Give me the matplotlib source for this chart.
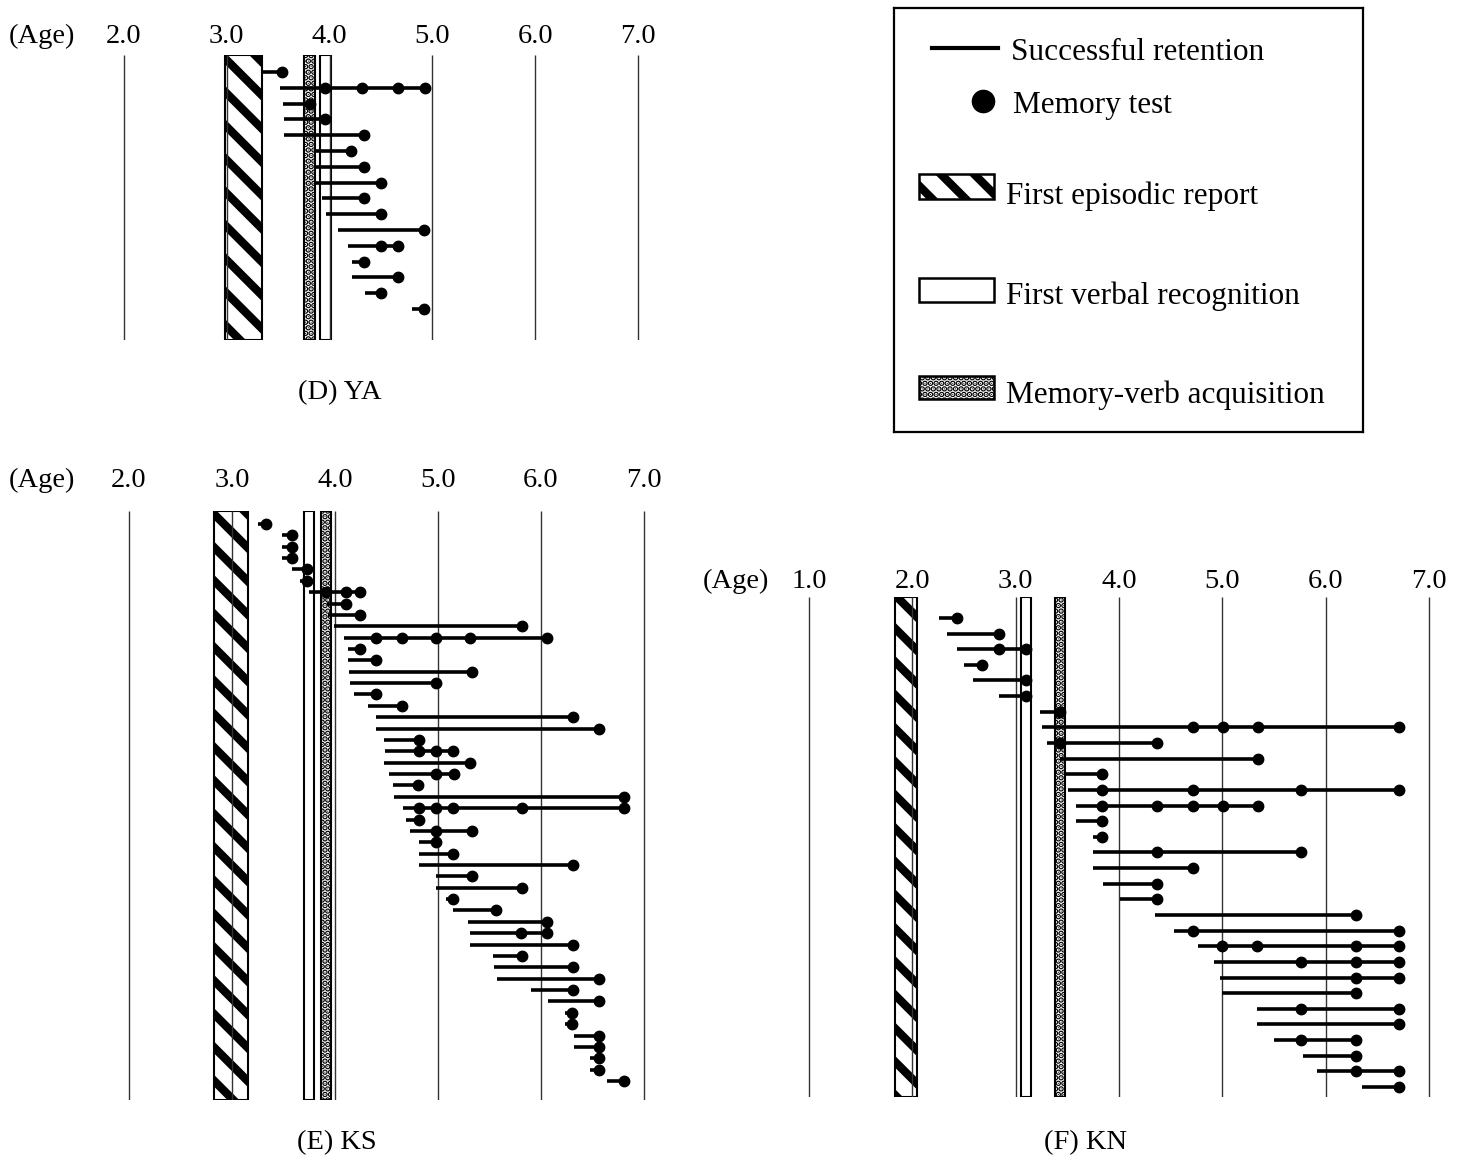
import matplotlib
matplotlib.use("Agg")
import matplotlib.pyplot as plt
from matplotlib.patches import Rectangle

plt.rcParams['font.family'] = ['Liberation Serif', 'DejaVu Serif']
plt.rcParams['hatch.linewidth'] = 6.0

W, H = 1467, 1160
OUT = "out.png"

# ---- data (ages in years) ----
ticks_de = [2.0, 3.0, 4.0, 5.0, 6.0, 7.0]
ticks_f = [1.0, 2.0, 3.0, 4.0, 5.0, 6.0, 7.0]

# (D) YA
ya_episodic = (2.98, 3.34)
ya_verbal = (3.91, 4.01)
ya_memverb = (3.75, 3.86)
ya_start = [3.34, 3.52, 3.55, 3.56, 3.56, 3.85, 3.85, 3.85,
            3.93, 3.97, 4.08, 4.18, 4.22, 4.22, 4.34, 4.80]
ya_tests = [[3.54], [3.96, 4.32, 4.67, 4.93], [3.81], [3.96], [4.33],
            [4.21], [4.33], [4.50], [4.33], [4.50], [4.92], [4.50, 4.67],
            [4.33], [4.67], [4.50], [4.92]]

# (E) KS
ks_episodic = (2.83, 3.16)
ks_verbal = (3.70, 3.80)
ks_memverb = (3.86, 3.96)
ks_start = [3.25, 3.49, 3.49, 3.49, 3.58, 3.66, 3.75, 3.92, 3.93, 3.99,
            4.09, 4.13, 4.13, 4.14, 4.15, 4.18, 4.32, 4.40, 4.40, 4.48,
            4.49, 4.48, 4.52, 4.56, 4.57, 4.66, 4.69, 4.73, 4.82, 4.82,
            4.82, 4.98, 4.98, 5.08, 5.15, 5.29, 5.31, 5.31, 5.53, 5.54,
            5.57, 5.90, 6.07, 6.23, 6.23, 6.32, 6.32, 6.48, 6.48, 6.64]
ks_tests = [[3.33], [3.58], [3.58], [3.58], [3.73], [3.73],
            [3.91, 4.11, 4.24], [4.11], [4.24], [5.82],
            [4.40, 4.65, 4.98, 5.31, 6.06], [4.24], [4.40], [5.33], [4.98],
            [4.40], [4.65], [6.31], [6.56], [4.82],
            [4.82, 4.98, 5.15], [5.31], [4.98, 5.16], [4.81], [6.81],
            [4.82, 4.98, 5.15, 5.82, 6.81], [4.82], [4.98, 5.33], [4.98], [5.15],
            [6.31], [5.33], [5.82], [5.15], [5.56],
            [6.06], [5.81, 6.06], [6.31], [5.82], [6.31],
            [6.56], [6.31], [6.56], [6.30], [6.30],
            [6.56], [6.56], [6.56], [6.56], [6.81]]

# (F) KN
kn_episodic = (1.83, 2.05)
kn_verbal = (3.05, 3.15)
kn_memverb = (3.38, 3.48)
kn_start = [2.26, 2.34, 2.43, 2.50, 2.59, 2.84, 3.24, 3.26, 3.30, 3.43,
            3.48, 3.51, 3.58, 3.58, 3.75, 3.75, 3.75, 3.85, 4.01, 4.35,
            4.53, 4.77, 4.92, 4.98, 5.00, 5.34, 5.34, 5.50, 5.78, 5.92, 6.35]
kn_tests = [[2.43], [2.84], [2.84, 3.10], [2.67], [3.10], [3.10], [3.43],
            [4.72, 5.01, 5.35, 6.71], [3.43, 4.37], [5.35], [3.84],
            [3.84, 4.72, 5.76, 6.71], [3.84, 4.37, 4.72, 5.01, 5.35], [3.84],
            [3.84], [4.37, 5.76], [4.72], [4.37], [4.37], [6.30],
            [4.72, 6.71], [5.00, 5.34, 6.30, 6.71], [5.76, 6.30, 6.71],
            [6.30, 6.71], [6.30], [5.76, 6.71], [6.71], [5.76, 6.30],
            [6.30], [6.30, 6.71], [6.71]]

legend_labels = ["Successful retention", "Memory test", "First episodic report",
                 "First verbal recognition", "Memory-verb acquisition"]

STRIPE = '\\'
DOTS = '...'

fig = plt.figure(figsize=(W / 100, H / 100), dpi=100)


def px_axes(left, top, width, height):
    return fig.add_axes([left / W, 1 - (top + height) / H, width / W, height / H])


def hatch_lw(patch, lw):
    if hasattr(patch, 'set_hatch_linewidth'):
        patch.set_hatch_linewidth(lw)
    return patch


def draw_panel(ax, ticks, age_x, episodic, verbal, memverb, starts, tests, pad):
    # bars
    hatch_lw(ax.axvspan(*episodic, facecolor='white', edgecolor='black', lw=1.5,
                        hatch=STRIPE, zorder=1), 6.0)
    ax.axvspan(*verbal, facecolor='white', edgecolor='black', lw=1.5, zorder=1)
    hatch_lw(ax.axvspan(*memverb, facecolor='white', edgecolor='black', lw=1.5,
                        hatch=DOTS, zorder=1), 3.0)
    # age grid
    y0, y1 = ax.get_ylim()
    ax.vlines(ticks, y0, y1, color='#333333', lw=1.0, zorder=2)
    # retention lines and tests
    for i, (s, t) in enumerate(zip(starts, tests)):
        ax.hlines(i, s, max(t), color='black', lw=2.6, zorder=3)
        ax.plot(t, [i] * len(t), 'o', color='black', ms=7.5, zorder=4)
    ax.xaxis.tick_top()
    ax.set_xticks([age_x] + ticks)
    ax.set_xticklabels(['(Age)'] + ['%.1f' % a for a in ticks], fontsize=20.5)
    ax.tick_params(axis='x', length=0, pad=pad)
    ax.set_yticks([])
    for sp in ax.spines.values():
        sp.set_visible(False)
    ax.patch.set_alpha(0)


# (D) YA
axD = px_axes(10.9, 55, 668.2, 285)
axD.set_xlim(0.9, 7.4)
axD.set_ylim(16.96, -1.08)
draw_panel(axD, ticks_de, 1.2, ya_episodic, ya_verbal, ya_memverb,
           ya_start, ya_tests, 4.5)

# (E) KS
axE = px_axes(15.7, 511, 669.5, 589)
axE.set_xlim(0.9, 7.4)
axE.set_ylim(50.67, -1.14)
draw_panel(axE, ticks_de, 1.15, ks_episodic, ks_verbal, ks_memverb,
           ks_start, ks_tests, 13)

# (F) KN
axF = px_axes(705.7, 597, 754.1, 500)
axF.set_xlim(0.0, 7.3)
axF.set_ylim(30.64, -1.34)
draw_panel(axF, ticks_f, 0.29, kn_episodic, kn_verbal, kn_memverb,
           kn_start, kn_tests, 2.5)

for label, (x, y) in zip(["(D) YA", "(E) KS", "(F) KN"],
                         [(340, 393), (337, 1143), (1085, 1143)]):
    fig.text(x / W, 1 - y / H, label, fontsize=20.5, ha='center', va='center')

# legend box, drawn in figure pixel units
leg = px_axes(894, 8, 469, 424)
leg.set_xlim(894, 1363)
leg.set_ylim(432, 8)
leg.set_xticks([]); leg.set_yticks([])
for sp in leg.spines.values():
    sp.set_linewidth(1.6)
leg.plot([932, 998], [48, 48], color='black', lw=3)
leg.plot([983], [101], 'o', color='black', ms=16)
leg.add_patch(hatch_lw(Rectangle((919, 174), 75, 25, facecolor='white',
                                 edgecolor='black', lw=1.8, hatch=STRIPE), 6.0))
leg.add_patch(Rectangle((919, 278), 75, 24, facecolor='white', edgecolor='black',
                        lw=1.8))
leg.add_patch(hatch_lw(Rectangle((919, 376), 75, 23, facecolor='white',
                                 edgecolor='black', lw=1.8, hatch=DOTS), 3.0))
for lab, (x, y) in zip(legend_labels,
                       [(1011, 52), (1013, 105), (1006, 196), (1006, 296), (1006, 395)]):
    leg.text(x, y, lab, fontsize=22.5, ha='left', va='center')

fig.savefig(OUT, dpi=100)
